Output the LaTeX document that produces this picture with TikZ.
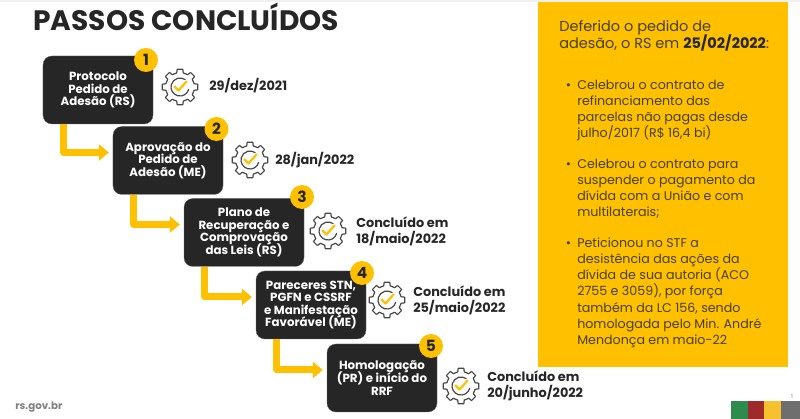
\documentclass[tikz,border=0pt]{standalone}
\usepackage{fontspec}
\setmainfont{Poppins}
\usetikzlibrary{arrows.meta}
\definecolor{ouro}{HTML}{FFC000}
\definecolor{grafite}{HTML}{262626}
\definecolor{textopainel}{HTML}{45400F}
\definecolor{verdeRS}{HTML}{2E8B4E}
\definecolor{vermelhoRS}{HTML}{9E2A2B}
\definecolor{amareloRS}{HTML}{F7C02E}
\definecolor{cinzaRS}{HTML}{6E6E6E}
\newcommand{\bul}{\llap{\textbullet\hspace{1.55mm}}}
\lineskiplimit=-10pt
\tikzset{
	passo/.style={fill=grafite,draw=grafite!70,line width=.2pt,rounded corners=2.2mm,text=white,align=center,
		minimum height=17mm,font=\fontsize{8.4}{8.95}\selectfont\bfseries},
	selo/.style={circle,fill=ouro,text=grafite,inner sep=0pt,minimum size=6mm,font=\fontsize{11}{11}\selectfont\bfseries},
	data/.style={anchor=west,align=left,inner sep=0pt,text=grafite,font=\fontsize{9.15}{11.3}\selectfont\bfseries},
	painel/.style={anchor=north west,align=left,inner sep=0pt,text=textopainel,font=\fontsize{9}{11.4}\selectfont},
	fluxo/.style={ouro,line width=1.75mm,-{Triangle[length=2.5mm,width=4mm]}},
	engrenagem/.pic={
		\draw[grafite!85,line width=.3mm,line join=round]
			\foreach \a in {0,45,...,315}{
				(\a-9:18) -- (\a+9:18) -- (\a+13:14.5) arc (\a+13:\a+32:14.5) -- (\a+36:18)
			};
		\draw[grafite!85,line width=.3mm,line cap=round] (15:9) arc (15:305:9);
		\draw[ouro,line width=.55mm,line cap=round,line join=round] (-5.5,-.5)--(-1.5,3.5)--(6.5,-5.5);
	}
}
\begin{document}
\begin{tikzpicture}[x=.25mm,y=-.25mm,line join=round]
	\useasboundingbox (0,0) rectangle (800,419);
	\path
	(98,90) coordinate (P1)
	(168,160.5) coordinate (P2)
	(244,232.5) coordinate (P3)
	(311,305) coordinate (P4)
	(382,378) coordinate (P5)
	;
	\fill[gray!12] (0,0) rectangle (800,2);
	\node[anchor=base west,inner sep=0pt,text=grafite,font=\fontsize{20}{22}\selectfont\bfseries] (titulo) at (33,31) {PASSOS CONCLUÍDOS};
	% passos
	\foreach \n/\w/\t in {1/27.5mm/{Protocolo\\Pedido de\\Adesão (RS)},
		2/27.5mm/{Aprovação do\\Pedido de\\Adesão (ME)},
		3/30mm/{Plano de\\Recuperação e\\Comprovação\\das Leis (RS)},
		4/27.5mm/{Pareceres STN,\\PGFN e CSSRF\\e Manifestação\\Favorável (ME)},
		5/27.5mm/{Homologação\\(PR) e início do\\RRF}}
		\node[passo,minimum width=\w] (box\n) at (P\n) {\t};
	\foreach \a/\b in {1/2,2/3,3/4,4/5}
		\draw[fluxo] ([xshift=5.2mm]box\a.south west) |- ([xshift=-1mm,yshift=2mm]box\b.west);
	\foreach \n/\x/\y in {1/146/60,2/216.5/129,3/302/197,4/362/273,5/431/346}
		\node[selo] (selo\n) at (\x,\y) {\n};
	% engrenagens e datas
	\foreach \x/\y in {180/87,250/160,328/231,387/300,461/386}
		\pic at (\x,\y) {engrenagem};
	\node[data] (data1) at (209,86) {29/dez/2021};
	\node[data] (data2) at (275,160) {28/jan/2022};
	\node[data] (data3) at (356,231) {Concluído em\\18/maio/2022};
	\node[data] (data4) at (413,300) {Concluído em\\25/maio/2022};
	\node[data] (data5) at (487,386) {Concluído em\\20/junho/2022};
	% painel
	\fill[ouro] (538,2) rectangle (788,367);
	\node[painel,font=\fontsize{10.3}{12.1}\selectfont] (texto0) at (559,20) {Deferido o pedido de\\adesão, o RS em \textbf{\textcolor{grafite}{25/02/2022}}:};
	\node[painel] (texto1) at (577,79.5) {\bul Celebrou o contrato de\\refinanciamento das\\parcelas não pagas desde\\julho/2017 (R\$ 16,4 bi)};
	\node[painel] (texto2) at (577,158.5) {\bul Celebrou o contrato para\\suspender o pagamento da\\dívida com a União e com\\multilaterais;};
	\node[painel] (texto3) at (577,238) {\bul Peticionou no STF a\\desistência das ações da\\dívida de sua autoria (ACO\\2755 e 3059), por força\\também da LC 156, sendo\\homologada pelo Min. André\\Mendonça em maio-22};
	% rodape
	\node[anchor=west,inner sep=0pt,text=gray,font=\fontsize{7.3}{8}\selectfont\bfseries] (site) at (15,407) {rs.gov.br};
	\node[inner sep=0pt,text=gray,font=\fontsize{4}{5}\selectfont] (pagina) at (792,396) {1};
	\foreach \x/\c in {731/verdeRS,748/vermelhoRS,764/amareloRS,781/cinzaRS}
		\fill[\c] (\x,401) rectangle ++(19,18);
\end{tikzpicture}
\end{document}
